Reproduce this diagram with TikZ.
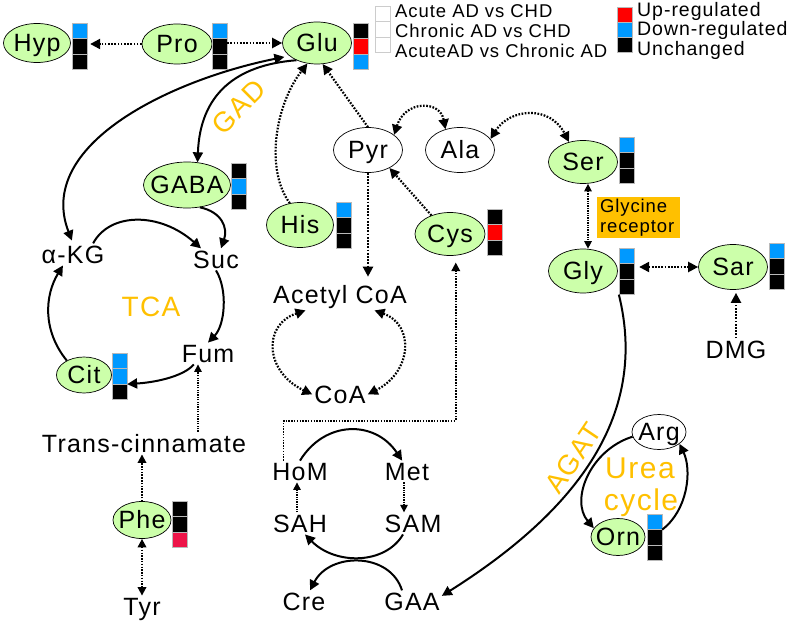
\documentclass[tikz,border=0pt]{standalone}
\usepackage{fontspec}
\setmainfont{Liberation Sans}[LetterSpace=5]
\usetikzlibrary{shapes.geometric,arrows.meta,calc}
\definecolor{mgreen}{RGB}{204,255,170}
\definecolor{mblue}{RGB}{0,153,255}
\definecolor{mred}{RGB}{255,0,0}
\definecolor{mcrim}{RGB}{237,20,72}
\definecolor{morange}{RGB}{255,192,0}
\newcommand{\lblfont}{\fontsize{25}{30}\selectfont}
\newcommand{\bigfont}{\fontsize{28}{32}\selectfont}
\newcommand{\ureafont}{\fontsize{30}{33}\selectfont}
\newcommand{\legfont}{\fontsize{18.5}{20}\selectfont}
\newcommand{\legRfont}{\fontsize{19.5}{20}\selectfont}
\newcommand{\recfont}{\fontsize{18.5}{20}\selectfont}
\newcommand{\ct}[1]{\makebox[0pt]{\smash{\raisebox{-0.358em}{#1}}}}
\newcommand{\statbar}[6]{%
  \node[cell,fill=#4] (#1a) at ({#2+7.5},{#3+7.75}) {};
  \node[cell,fill=#5] (#1b) at ({#2+7.5},{#3+23.25}) {};
  \node[cell,fill=#6] (#1c) at ({#2+7.5},{#3+38.75}) {};}
\begin{document}
\begin{tikzpicture}[x=1pt,y=-1pt,
  met/.style={ellipse,draw=black,line width=0.7pt,fill=mgreen,inner sep=0pt,font=\lblfont},
  metw/.style={met,fill=white},
  txt/.style={inner sep=2pt,anchor=base,font=\lblfont},
  cell/.style={rectangle,draw=gray!55,line width=0.3pt,minimum width=15pt,minimum height=15.5pt,inner sep=0pt},
  sol/.style={line width=2pt,-{Triangle[length=10pt,width=10pt]}},
  solbi/.style={line width=2pt,{Triangle[length=10pt,width=10pt]}-{Triangle[length=10pt,width=10pt]}},
  dotl/.style={line width=2.2pt,dash pattern=on 1.7pt off 1.5pt},
  dotar/.style={dotl,-{Triangle[length=10pt,width=10pt]}},
  dotbi/.style={dotl,{Triangle[length=10pt,width=10pt]}-{Triangle[length=10pt,width=10pt]}},
  mdotl/.style={line width=1.8pt,dash pattern=on 1.5pt off 1.3pt},
  mdotar/.style={mdotl,-{Triangle[length=8.5pt,width=8.5pt]}},
  mdotbi/.style={mdotl,{Triangle[length=8.5pt,width=8.5pt]}-{Triangle[length=8.5pt,width=8.5pt]}},
  tdotl/.style={line width=1.3pt,dash pattern=on 1.3pt off 1.1pt},
  tdotar/.style={tdotl,-{Triangle[length=7.5pt,width=7.5pt]}},
  tdotbi/.style={tdotl,{Triangle[length=7.5pt,width=7.5pt]}-{Triangle[length=7.5pt,width=7.5pt]}},
  olbl/.style={text=morange,font=\bigfont,inner sep=0pt}
]
\useasboundingbox (0,0) rectangle (787,623);

% ---- metabolite ellipses
\node[met,minimum width=67pt,minimum height=39pt] (hyp) at (37,43) {\ct{Hyp}};
\node[met,minimum width=70pt,minimum height=40pt] (pro) at (177,44) {\ct{Pro}};
\node[met,minimum width=69pt,minimum height=42pt] (glu) at (317,43) {\ct{Glu}};
\node[met,minimum width=87pt,minimum height=46pt] (gaba) at (187,185) {\ct{GABA}};
\node[met,minimum width=67pt,minimum height=45pt] (his) at (300,225) {\ct{His}};
\node[metw,minimum width=69pt,minimum height=45pt] (pyr) at (368,150) {\ct{Pyr}};
\node[metw,minimum width=69pt,minimum height=45pt] (ala) at (460,150) {\ct{Ala}};
\node[met,minimum width=69pt,minimum height=43pt] (ser) at (583,162) {\ct{Ser}};
\node[met,minimum width=69pt,minimum height=44pt] (gly) at (583,271) {\ct{Gly}};
\node[met,minimum width=69pt,minimum height=45pt] (sar) at (733,267) {\ct{Sar}};
\node[met,minimum width=70pt,minimum height=43pt] (cys) at (450,234) {\ct{Cys}};
\node[met,minimum width=55pt,minimum height=36pt] (cit) at (84,375) {\ct{Cit}};
\node[met,minimum width=58pt,minimum height=37pt] (phe) at (142,520) {\ct{Phe}};
\node[metw,minimum width=54pt,minimum height=35pt] (arg) at (659,432) {\ct{Arg}};
\node[met,minimum width=54pt,minimum height=37pt] (orn) at (618,537) {\ct{Orn}};

% ---- status bars
\statbar{hypb}{72}{23}{mblue}{black}{black}
\statbar{prob}{212}{23}{mblue}{black}{black}
\statbar{glub}{353}{23}{black}{mred}{mblue}
\statbar{gabab}{231}{163}{black}{mblue}{black}
\statbar{hisb}{336}{202}{mblue}{black}{black}
\statbar{cysb}{487}{209}{black}{mred}{black}
\statbar{serb}{619}{137}{mblue}{black}{black}
\statbar{glyb}{619}{248}{mblue}{black}{black}
\statbar{sarb}{769}{243}{mblue}{black}{black}
\statbar{citb}{112}{353}{mblue}{mblue}{black}
\statbar{pheb}{172}{501}{black}{black}{mcrim}
\statbar{ornb}{647}{514}{mblue}{black}{black}

% ---- plain labels
\node[txt] (akg) at (73,263) {α-KG};
\node[txt] (suc) at (216,268) {Suc};
\node[txt] (fum) at (208,362) {Fum};
\node[txt] (tc) at (144,452) {Trans-cinnamate};
\node[txt] (tyr) at (142,615) {Tyr};
\node[txt] (acoa) at (340,303) {Acetyl CoA};
\node[txt] (coa) at (340,403) {CoA};
\node[txt] (hom) at (300,480) {HoM};
\node[txt] (met) at (407,480) {Met};
\node[txt] (sah) at (300,532) {SAH};
\node[txt] (sam) at (413,532) {SAM};
\node[txt] (cre) at (304,610) {Cre};
\node[txt] (gaa) at (412,610) {GAA};
\node[txt] (dmg) at (736,358) {DMG};

% ---- orange labels
\node[olbl,anchor=base] (tca) at (151,316) {TCA};
\node[olbl,rotate=45] (gad) at (239,107) {GAD};
\node[olbl,rotate=56] (agat) at (573,458) {AGAT};
\node[olbl,font=\ureafont,anchor=base] (urea1) at (640,478) {Urea};
\node[olbl,font=\ureafont,anchor=base] (urea2) at (641,510) {cycle};
\node[fill=morange,inner xsep=3pt,inner ysep=2pt,text width=77pt,minimum height=41pt,align=left,font=\recfont] (glyr) at (638.5,217.5) {Glycine\\receptor};

% ---- legend
\node[cell,fill=white,draw=gray!40] (lw1) at (382.5,13.5) {};
\node[cell,fill=white,draw=gray!40] (lw2) at (382.5,29) {};
\node[cell,fill=white,draw=gray!40] (lw3) at (382.5,44.5) {};
\node[anchor=base west,inner sep=0pt,font=\legfont] (l1) at (395,18) {Acute AD vs CHD};
\node[anchor=base west,inner sep=0pt,font=\legfont] (l2) at (395,38) {Chronic AD vs CHD};
\node[anchor=base west,inner sep=0pt,font=\legfont] (l3) at (395,58) {AcuteAD vs Chronic AD};
\node[cell,fill=mred,minimum height=15pt] (lr) at (624.5,14.5) {};
\node[cell,fill=mblue,minimum height=15pt] (lb) at (624.5,29.5) {};
\node[cell,fill=black,minimum height=15pt] (lk) at (624.5,44.5) {};
\node[anchor=base west,inner sep=0pt,font=\legRfont] (lup) at (637,17) {Up-regulated};
\node[anchor=base west,inner sep=0pt,font=\legRfont] (ldown) at (637,36) {Down-regulated};
\node[anchor=base west,inner sep=0pt,font=\legRfont] (lunch) at (637,56) {Unchanged};

% ---- connectors: top row
\draw[dotar] (pro.west) -- ([xshift=3pt]pro.west -| hypbb.east);
\draw[dotar] (probb.east |- glu.west) -- (glu.west);

% Glu <-> alpha-KG, Glu -> GABA
\draw[solbi,shorten <=5pt,shorten >=3pt] (glu.205) .. controls (170,80) and (35,145) .. (akg.north);
\draw[sol] (glu.220) .. controls (235,65) and (200,95) .. (gaba.65);

% His, Pyr -> Glu
\draw[dotar] (his.115) .. controls (265,170) and (275,105) .. (glu.245);
\draw[dotar] (pyr.north) -- (glu.285);

% Pyr <-> Ala <-> Ser
\draw[dotbi] (pyr.30) .. controls (405,100) and (440,100) .. (ala.125);
\draw[dotbi] (ala.20) .. controls (510,108) and (550,105) .. (ser.125);

% Cys -> Pyr, Pyr -> Acetyl CoA
\draw[dotar] (cys.135) -- (pyr.320);
\draw[dotar,shorten >=6pt] (pyr.south) -- (pyr.south |- acoa.north);

% Acetyl CoA <-> CoA
\draw[dotbi] ($(acoa.south)!0.5!(acoa.south west)$) .. controls (262,325) and (265,372) .. (coa.west);
\draw[dotbi] ($(acoa.south)!0.5!(acoa.south east)$) .. controls (415,325) and (412,372) .. (coa.east);

% HoM -> Cys
\draw[mdotar,shorten >=7pt] ($(hom.north)!0.55!(hom.north west)$) -- ++(0,-40) -| (cys.285);

% methionine cycle
\draw[sol] (hom.north) .. controls (325,420) and (375,420) .. ($(met.north)!0.2!(met.north west)$);
\draw[tdotar] ([xshift=-3pt]met.south) -- ([xshift=-3pt]met.south |- sam.north);
\draw[tdotar] ([xshift=-3pt]sah.north) -- ([xshift=-3pt]sah.north |- hom.south);
\draw[sol] ([xshift=-10pt]sam.south) .. controls (385,565) and (335,565) .. ([xshift=5pt]sah.south);
\draw[sol] ([xshift=-10pt]gaa.north) .. controls (390,552) and (330,552) .. ([xshift=6pt]cre.north);

% Gly -> GAA (AGAT)
\draw[sol] (glybc.south west) .. controls (650,420) and (570,515) .. ($(gaa.east)!0.5!(gaa.north east)$);

% urea cycle
\draw[sol] (arg.190) .. controls (590,450) and (570,500) .. (orn.160);
\draw[sol] (ornba.south east) .. controls (688,510) and (692,470) .. (arg.330);

% Ser <-> Gly <-> Sar, DMG -> Sar
\draw[tdotbi] ([xshift=5pt]ser.south) -- ([xshift=5pt]gly.north);
\draw[dotbi,shorten <=5pt] (sar.west -| glybb.east) -- (sar.west);
\draw[dotar,shorten >=3pt] (dmg.north) -- (dmg.north |- sar.south);

% phenylalanine
\draw[tdotar] ([xshift=-10pt]fum.south |- tc.north) -- ([xshift=-10pt]fum.south);
\draw[mdotar] (phe.north) -- (phe.north |- tc.south);
\draw[mdotbi] (phe.south) -- (phe.south |- tyr.north);

% TCA cycle
\draw[sol] (cit.140) .. controls (42,330) and (45,295) .. ($(akg.south)!0.3!(akg.south west)$);
\draw[sol] ($(akg.north)!0.6!(akg.north east)$) .. controls (110,212) and (160,212) .. ($(suc.north)!0.6!(suc.north west)$);
\draw[sol] (gaba.300) .. controls (222,212) and (228,228) .. ($(suc.north)!0.2!(suc.north east)$);
\draw[sol] (suc.south) .. controls (228,290) and (225,325) .. (fum.north);
\draw[sol] ($(fum.south)!0.5!(fum.south west)$) .. controls (185,375) and (160,382) .. (citbb.south east);
\end{tikzpicture}
\end{document}
